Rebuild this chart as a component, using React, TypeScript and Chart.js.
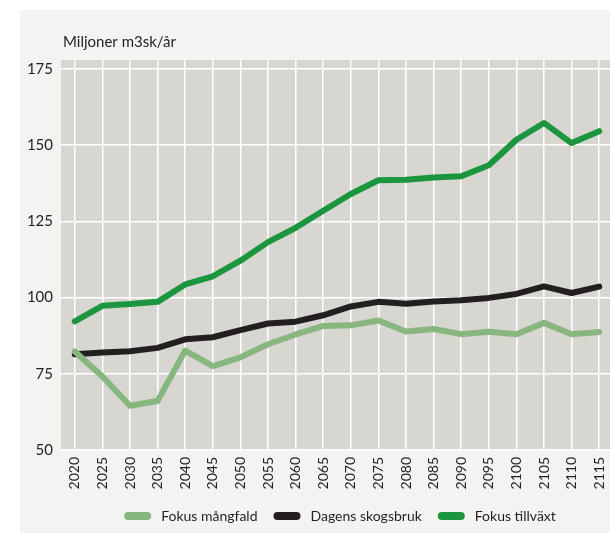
import React, { useEffect, useRef } from "react";
import { Chart, registerables } from "chart.js";

Chart.register(...registerables);

const years = ["2020","2025","2030","2035","2040","2045","2050","2055","2060","2065","2070","2075","2080","2085","2090","2095","2100","2105","2110","2115"];
const fokusMangfald = [82.3,74.1,64.5,66.1,82.6,77.5,80.4,84.7,87.9,90.7,90.9,92.5,88.9,89.7,88.0,88.8,88.0,91.7,88.0,88.7];
const dagensSkogsbruk = [81.4,82.0,82.4,83.5,86.3,87.0,89.3,91.5,92.1,94.2,97.1,98.6,98.0,98.7,99.1,99.9,101.2,103.7,101.5,103.6];
const fokusTillvaxt = [92.2,97.3,97.9,98.6,104.3,107.0,112.1,118.2,122.9,128.5,134.0,138.5,138.7,139.4,139.8,143.4,151.8,157.3,150.7,154.6];
const yTicks = [50, 75, 100, 125, 150, 175];
const seriesNames = ["Fokus mångfald", "Dagens skogsbruk", "Fokus tillväxt"];
const seriesColors = ["#87b67e", "#231f20", "#1b953e"];
const unitTitle = "Miljoner m3sk/år";

const FONT = "Lato, 'Open Sans', sans-serif";
const TEXT = "#231f20";

export default function App() {
  const ref = useRef<HTMLCanvasElement | null>(null);
  useEffect(() => {
    const canvas = ref.current!;
    const bgPlugin = {
      id: "bg",
      beforeDraw(chart: any) {
        const { ctx, chartArea } = chart;
        ctx.save();
        ctx.fillStyle = "#ffffff";
        ctx.fillRect(0, 0, chart.width, chart.height);
        ctx.fillStyle = "#f3f3f1";
        ctx.fillRect(20, 10, chart.width - 20, chart.height - 10);
        ctx.fillStyle = "#d7d6d1";
        ctx.fillRect(chartArea.left, chartArea.top, chartArea.right - chartArea.left, chartArea.bottom - chartArea.top);
        ctx.restore();
      },
      afterDraw(chart: any) {
        const { ctx, chartArea } = chart;
        ctx.save();
        ctx.fillStyle = TEXT;
        ctx.font = `15px ${FONT}`;
        ctx.textBaseline = "middle";
        ctx.textAlign = "left";
        ctx.fillText(unitTitle, chartArea.left + 2, 42);
        // legend
        ctx.font = `14px ${FONT}`;
        const boxW = 27, boxH = 8, gap = 10, itemGap = 16;
        const ds = chart.data.datasets;
        const widths = ds.map((d: any) => boxW + gap + ctx.measureText(d.label).width);
        const total = widths.reduce((a: number, b: number) => a + b, 0) + itemGap * (ds.length - 1);
        let x = 340 - total / 2;
        const y = 516;
        ds.forEach((d: any, i: number) => {
          ctx.fillStyle = d.borderColor;
          ctx.beginPath();
          (ctx as any).roundRect(x, y - boxH / 2, boxW, boxH, boxH / 2);
          ctx.fill();
          ctx.fillStyle = TEXT;
          ctx.fillText(d.label, x + boxW + gap, y);
          x += widths[i] + itemGap;
        });
        ctx.restore();
      },
    };
    const chart = new Chart(canvas, {
      type: "line",
      data: {
        labels: years,
        datasets: [fokusMangfald, dagensSkogsbruk, fokusTillvaxt].map((data, i) => ({
          label: seriesNames[i],
          data,
          borderColor: seriesColors[i],
          backgroundColor: seriesColors[i],
          borderWidth: 6,
          borderCapStyle: "round" as const,
          borderJoinStyle: "round" as const,
          pointRadius: 0,
          tension: 0,
        })),
      },
      options: {
        animation: false,
        responsive: false,
        devicePixelRatio: 1,
        layout: { padding: { top: 60, right: 17, left: 0, bottom: 0 } },
        plugins: { legend: { display: false }, tooltip: { enabled: false }, title: { display: false } },
        scales: {
          x: {
            offset: true,
            grid: { color: "#ffffff", lineWidth: 1.5, drawTicks: false, offset: false },
            border: { display: false },
            ticks: {
              color: TEXT,
              font: { family: FONT, size: 14 },
              minRotation: 90,
              maxRotation: 90,
              autoSkip: false,
              padding: 7,
            },
            afterFit: (s: any) => { s.height = 83; },
          },
          y: {
            min: 50,
            max: 177.95,
            grid: { color: "#ffffff", lineWidth: 1.5, drawTicks: false },
            border: { display: false },
            ticks: { color: TEXT, font: { family: FONT, size: 15 }, padding: 8 },
            afterBuildTicks: (s: any) => { s.ticks = yTicks.map((v) => ({ value: v })); },
            afterFit: (s: any) => { s.width = 61; },
          },
        },
      },
      plugins: [bgPlugin],
    });
    return () => chart.destroy();
  }, []);
  return (
    <div style={{ position: "fixed", left: 0, top: 0, width: 610, height: 533, overflow: "hidden", background: "#fff" }}>
      <canvas ref={ref} width={630} height={533} style={{ position: "absolute", left: 0, top: 0, width: 630, height: 533 }} />
    </div>
  );
}
